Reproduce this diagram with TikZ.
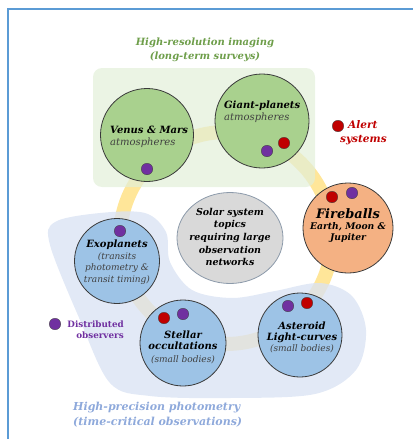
\documentclass[tikz,border=0pt]{standalone}
\usepackage{fontspec}
\setmainfont{DejaVu Serif}
\usetikzlibrary{shapes.geometric}
\definecolor{framec}{HTML}{5B9BD5}
\definecolor{greenrect}{HTML}{E2EFD9}
\definecolor{greenc}{HTML}{A9D18E}
\definecolor{bluec}{HTML}{9DC3E6}
\definecolor{blobc}{HTML}{DAE3F3}
\definecolor{orangec}{HTML}{F4B183}
\definecolor{grayc}{HTML}{D9D9D9}
\definecolor{grayborder}{HTML}{8C9AAA}
\definecolor{ringc}{HTML}{FFE699}
\definecolor{redc}{HTML}{C00000}
\definecolor{purplec}{HTML}{7030A0}
\definecolor{circborder}{HTML}{3A3A3A}
\definecolor{greentitle}{HTML}{6E9E4A}
\definecolor{bluetitle}{HTML}{8EA9DB}
\definecolor{subtext}{HTML}{404040}
\begin{document}
\begin{tikzpicture}[x=1pt,y=-1pt,
  topic/.style={circle, draw=circborder, line width=0.8pt, minimum size=#1, inner sep=0pt},
  dotred/.style={circle, fill=redc, draw=circborder, line width=0.3pt, minimum size=11.5pt, inner sep=0pt},
  dotpurple/.style={circle, fill=purplec, draw=circborder, line width=0.3pt, minimum size=11.5pt, inner sep=0pt},
  txt/.style={inner sep=0pt, align=center, font=\fontsize{10}{12}\selectfont\itshape},
  title/.style={inner sep=0pt, align=center, font=\fontsize{10}{14}\selectfont\bfseries\itshape}]
\useasboundingbox (0,0) rectangle (413,439);
% frame
\draw[framec, line width=2pt] (8,439) -- (8,9) -- (413,9);
% ring
\coordinate (ringctr) at (226,238);
\draw[ringc, line width=14pt] (ringctr) circle [radius=106pt];
% green region
\fill[greenrect, fill opacity=0.7, rounded corners=9pt] (93,68) rectangle (315,187);
% blue region
\fill[blobc, fill opacity=0.78] plot[smooth cycle, tension=0.55] coordinates {
 (55,222) (100,213) (145,213) (166,232) (170,262) (192,290) (232,298) (275,291)
 (320,283) (352,296) (366,330) (356,370) (315,394) (230,398) (150,396) (110,383)
 (80,320) (50,245)};
% topic circles
\node[topic=93pt, fill=greenc] (venus) at (147,135) {};
\node[topic=94pt, fill=greenc] (giant) at (262,121) {};
\node[topic=90pt, fill=orangec] (fire) at (348,228) {};
\node[topic=85pt, fill=bluec] (exo) at (117,261) {};
\node[topic=86pt, fill=bluec] (stellar) at (183,343) {};
\node[topic=84pt, fill=bluec] (aster) at (300,335) {};
\node[ellipse, draw=grayborder, line width=0.8pt, fill=grayc, minimum width=106pt, minimum height=91pt, inner sep=0pt] (solar) at (230,238) {};
% dots
\node[dotpurple] (venusp) at (147,169) {};
\node[dotpurple] (giantp) at (267,151) {};
\node[dotred] (giantr) at (284,143) {};
\node[dotred] (firer) at (332,197) {};
\node[dotpurple] (firep) at (352,193) {};
\node[dotpurple] (exop) at (120,231) {};
\node[dotred] (stellarr) at (164,318) {};
\node[dotpurple] (stellarp) at (183,314) {};
\node[dotpurple] (asterp) at (288,306) {};
\node[dotred] (asterr) at (307,303) {};
\node[dotred] (alertdot) at (338,126) {};
\node[dotpurple] (distdot) at (55,324) {};
% texts in circles
\node[txt, align=left, anchor=west] (venust) at (110,137) {{\bfseries Venus \& Mars}\\\textcolor{subtext}{atmospheres}};
\node[txt, align=left, anchor=west] (giantt) at (224,112) {{\bfseries Giant-planets}\\\textcolor{subtext}{atmospheres}};
\node[txt, font=\fontsize{9.2}{12}\selectfont\bfseries\itshape] (firet) at (348,226) {{\fontsize{13}{15}\selectfont Fireballs}\\[-1pt]Earth, Moon \&\\[-1pt]Jupiter};
\node[txt, font=\fontsize{9.5}{12.6}\selectfont\bfseries\itshape] (solart) at (230,237) {Solar system\\topics\\requiring large\\observation\\networks};
\node[txt, font=\fontsize{9}{11.5}\selectfont\itshape, text=subtext] (exot) at (117,262) {\textcolor{black}{\fontsize{10}{12.5}\selectfont\bfseries Exoplanets}\\[0pt](transits\\photometry \&\\transit timing)};
\node[txt, font=\fontsize{9}{11.5}\selectfont\itshape, text=subtext] (stellart) at (183,347) {\textcolor{black}{\fontsize{10}{12.5}\selectfont\bfseries Stellar}\\\textcolor{black}{\fontsize{10}{12.5}\selectfont\bfseries occultations}\\[1pt](small bodies)};
\node[txt, font=\fontsize{9}{11.5}\selectfont\itshape, text=subtext] (astert) at (302,337) {\textcolor{black}{\fontsize{10}{12.5}\selectfont\bfseries Asteroid}\\\textcolor{black}{\fontsize{10}{12.5}\selectfont\bfseries Light-curves}\\[-1pt](small bodies)};
% legend texts
\node[txt, align=left, anchor=west, text=redc, font=\fontsize{10.5}{14}\selectfont\bfseries\itshape] (alertt) at (340,133) {\hspace*{8pt}Alert\\systems};
\node[inner sep=0pt, align=right, anchor=east, text=purplec, font=\fontsize{8.8}{11}\selectfont\bfseries] (distt) at (124,330) {Distributed\\observers};
% region titles
\node[title, text=greentitle] (hrtitle) at (205,50) {High-resolution imaging\\(long-term surveys)};
\node[title, text=bluetitle, align=left, anchor=west, font=\fontsize{11}{15}\selectfont\bfseries\itshape] (hptitle) at (73,415) {High-precision photometry\\(time-critical observations)};
\end{tikzpicture}
\end{document}
